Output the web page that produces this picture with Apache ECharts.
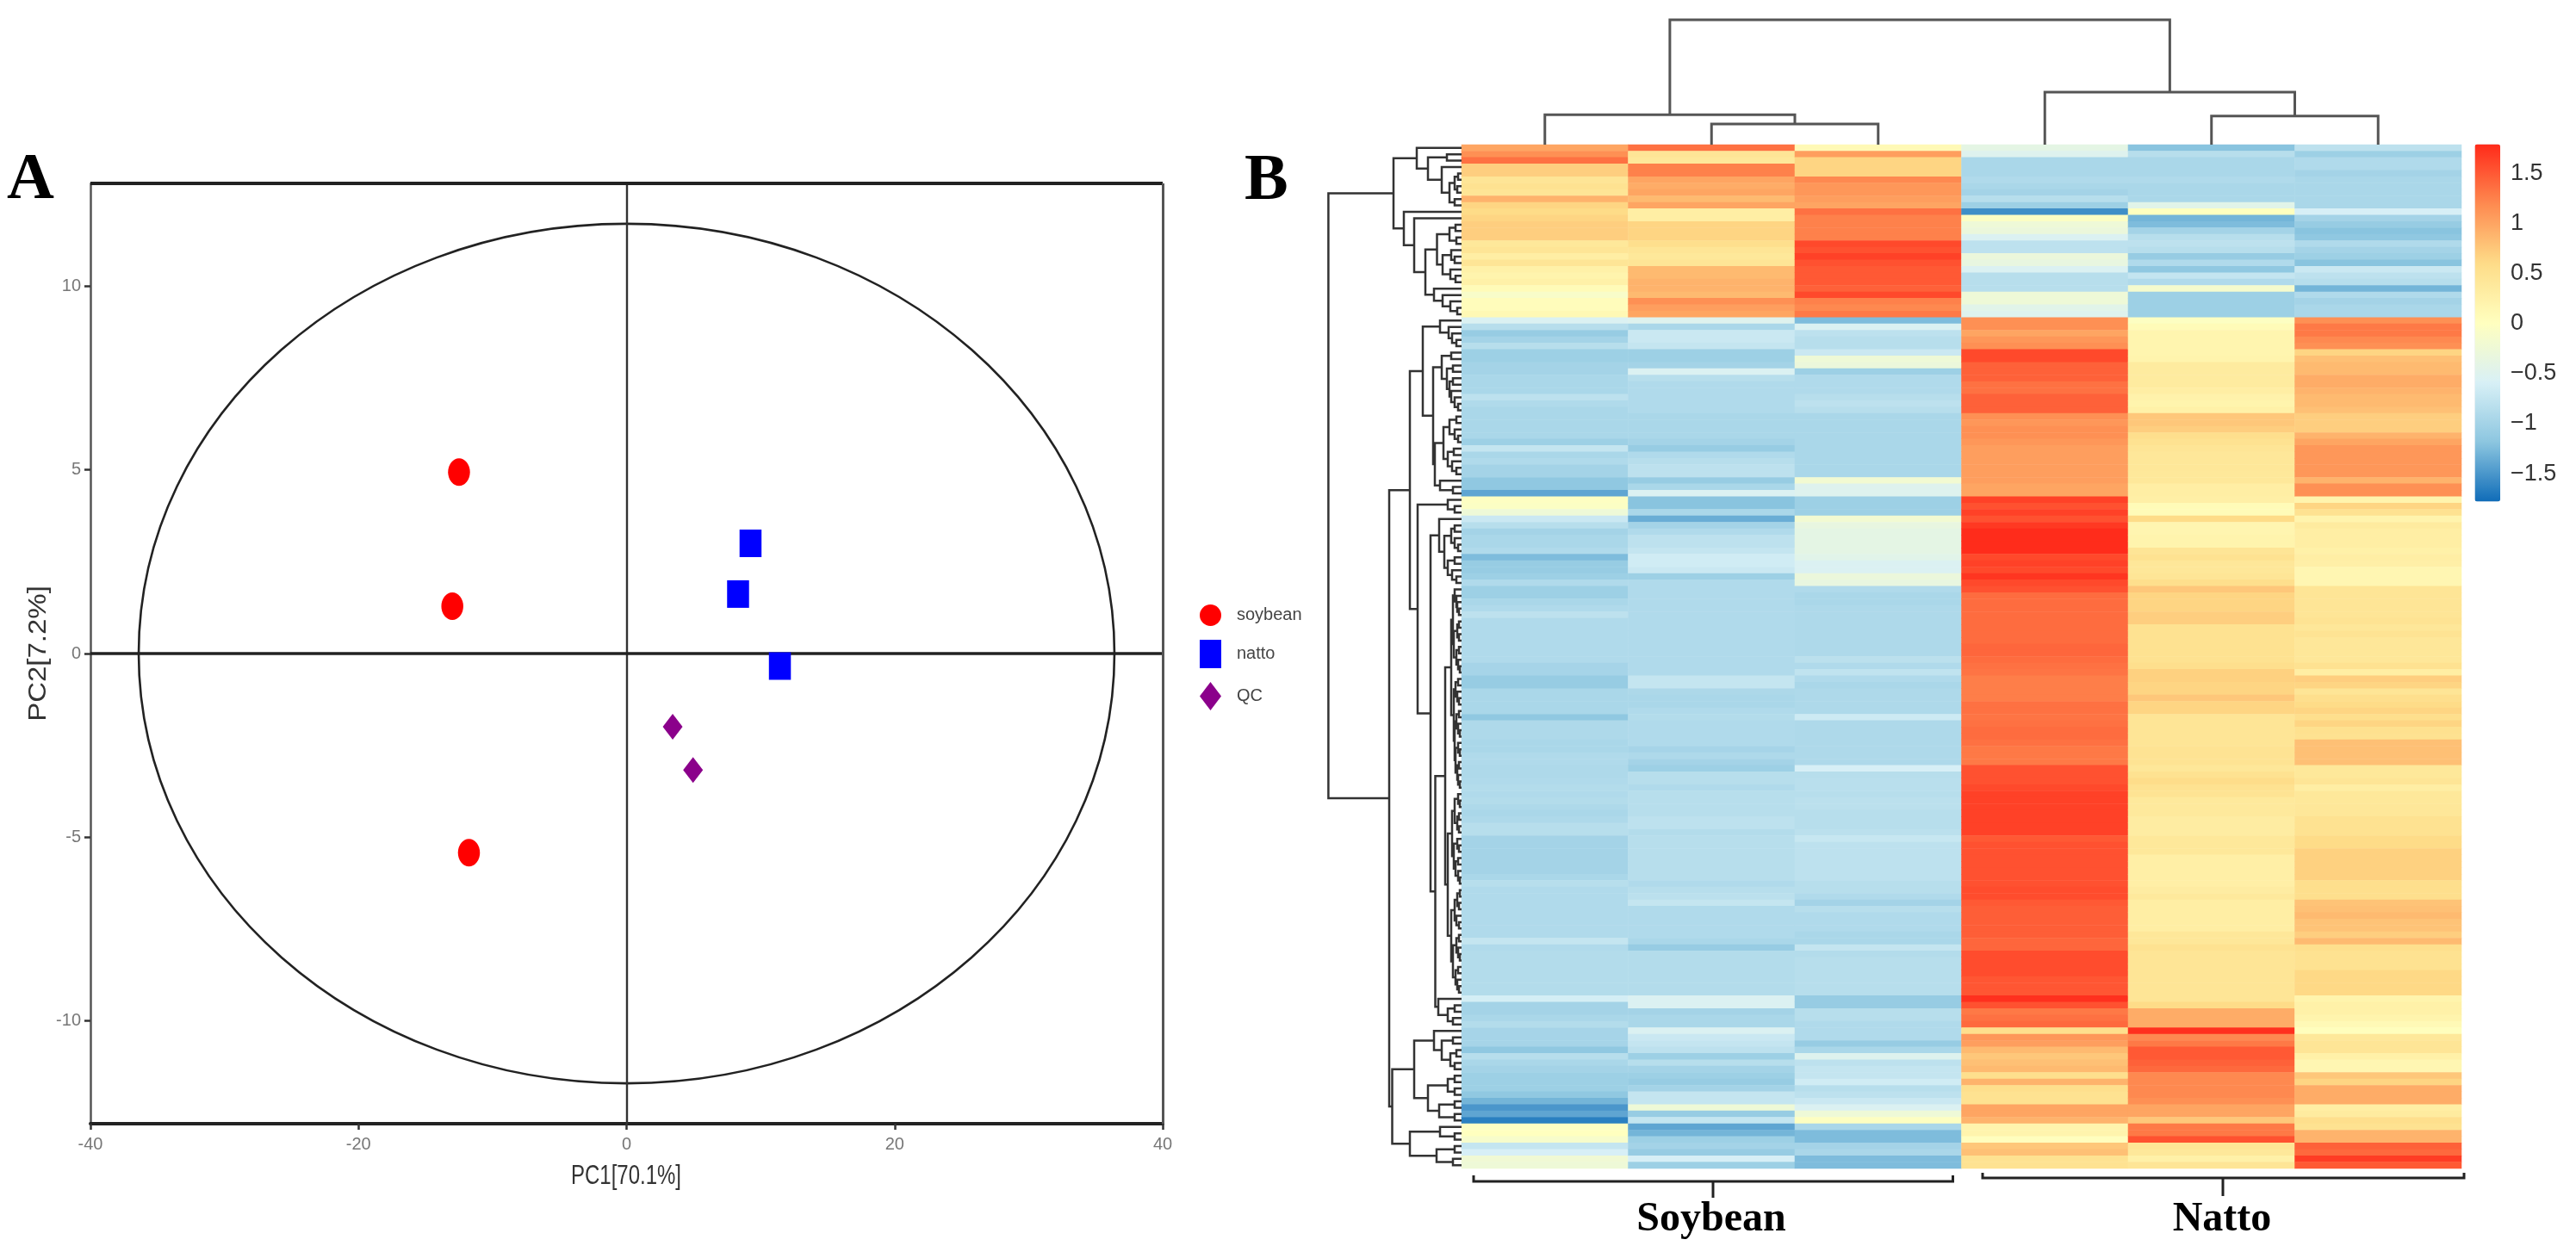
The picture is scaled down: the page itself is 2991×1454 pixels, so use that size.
<!DOCTYPE html>
<html><head><meta charset="utf-8"><title>PCA and heatmap</title>
<style>html,body{margin:0;padding:0;background:#fff}#c{width:2991px;height:1454px}</style>
<script src="https://cdn.jsdelivr.net/npm/echarts@6/dist/echarts.min.js"></script></head>
<body><div id="c"></div><script>
// ---------- Panel A data ----------
const soybean = [[-12.5,4.94],[-13.0,1.29],[-11.76,-5.42]];
const natto   = [[9.25,3.0],[8.32,1.62],[11.44,-0.34]];
const qc      = [[3.44,-1.99],[4.96,-3.17]];
const ellipseAxes = [36.4,11.7];
const pcaXTicks = [-40,-20,0,20,40];
const pcaYTicks = [-10,-5,0,5,10];
// ---------- Panel B data ----------
const sampleNames = ["S1","S2","S3","N1","N2","N3"];
const colS1 = [1.0,1.15,1.35,.7,.7,.45,.5,.45,.9,.65,.6,.65,.7,.7,.7,.4,.45,.3,.45,.25,.2,.25,.08,-.1,.05,.05,.12,
-.55,-.85,-1.1,-1.0,-.85,-1.05,-1.05,-1.0,-1.0,-.95,-.95,-.95,-.8,-.9,-.95,-.95,-.95,-.95,-.95,-1.05,-.75,-.95,-.9,
-1.0,-1.0,-1.15,-1.15,-1.4,-.03,-.05,-.25,-.7,-.85,-1.0,-.95,-.95,-.9,-1.25,-1.1,-1.1,-1.05,-.9,-1.05,
-1.05,-.95,-.9,-.8,-.9,-.9,-.9,-.9,-.9,-.9,-.9,-.98,-.98,-1.1,-1.1,-.95,-.95,-.95,-.95,-1.15,
-.92,-.92,-.92,-.95,-.95,-.9,-.9,-.92,-.92,-.9,-.88,-.9,-.88,-.92,-.95,-.92,-.85,-.85,-1.0,-1.0,
-1.0,-1.0,-1.0,-1.0,-.95,-.85,-.9,-.9,-.9,-.9,-.9,-.9,-.9,-.9,-.75,-.9,-.88,-.88,-.88,-.88,
-.88,-.88,-.88,-.62,-1.0,-1.0,-.95,-.88,-.98,-.98,-.98,-1.15,-.85,-.95,-1.0,-1.05,-1.05,-1.05,-1.15,-1.3,
-1.5,-1.4,-1.65,-.05,0,-.12,-.75,-.6,-.22,-.25];
const colS2 = [1.35,.45,.4,1.25,1.25,1.0,.95,1.0,.85,1.0,.3,.3,.65,.65,.65,.55,.45,.4,.45,.85,.85,.9,.9,.85,1.15,1.05,1.0,
-.5,-.95,-.7,-.7,-.75,-1.05,-1.05,-1.0,-.55,-.85,-.9,-.9,-.9,-.9,-.9,-.95,-.95,-.95,-.95,-1.0,-1.1,-.9,-.85,
-.8,-.8,-1.1,-.95,-.55,-1.2,-1.2,-.95,-1.35,-1.0,-.9,-.8,-.8,-.75,-.65,-.65,-.7,-1.05,-.9,-.9,
-.9,-.9,-.9,-.9,-.9,-.9,-.9,-.9,-.9,-.9,-.9,-.9,-.9,-.75,-.75,-.93,-.95,-.95,-.9,-.88,
-.9,-.9,-.9,-.9,-.98,-.92,-1.0,-1.05,-.85,-.85,-.9,-.85,-.85,-.85,-.85,-.8,-.8,-.88,-.85,-.85,
-.85,-.85,-.85,-.85,-.85,-.9,-.85,-.82,-.75,-.9,-.9,-.9,-.9,-.9,-.95,-1.1,-.88,-.88,-.88,-.88,
-.88,-.88,-.88,-.55,-.55,-1.0,-.95,-.95,-.55,-.7,-.75,-.8,-1.05,-.85,-1.0,-1.05,-1.1,-1.0,-.75,-.75,
-.25,-1.1,-.75,-1.4,-1.3,-1.05,-1.0,-1.1,-.6,-1.05];
const colS3 = [.1,1.05,.65,.65,.65,1.2,1.1,1.1,1.05,1.0,1.35,1.25,1.25,1.25,1.25,1.6,1.55,1.65,1.55,1.5,1.5,1.5,1.45,1.6,1.25,1.2,1.3,
-1.25,-.55,-.8,-.85,-.85,-.7,-.25,-.3,-1.05,-.9,-.9,-.9,-.85,-.8,-.85,-.95,-.95,-.95,-.95,-.95,-.95,-.95,-.95,
-.95,-.95,-.2,-.5,-.5,-1.05,-1.05,-1.05,-.2,-.35,-.4,-.4,-.4,-.4,-.45,-.55,-.55,-.3,-.35,-.9,
-.95,-.95,-.92,-.92,-.92,-.92,-.92,-.92,-.92,-.92,-.82,-.9,-.78,-.9,-.95,-.92,-.92,-.92,-.92,-.68,
-.92,-.92,-.92,-.92,-.92,-.92,-.92,-.6,-.85,-.83,-.83,-.85,-.82,-.82,-.85,-.85,-.85,-.82,-.72,-.8,
-.8,-.8,-.8,-.8,-.8,-.85,-.85,-.9,-1.0,-.85,-.9,-.9,-.9,-.95,-.95,-.75,-.88,-.85,-.85,-.85,
-.85,-.85,-.85,-1.1,-1.1,-.85,-.85,-.9,-.9,-.9,-1.1,-.95,-.5,-.8,-.75,-.75,-.65,-.85,-.8,-.7,
-.55,-.25,-.02,-.95,-1.25,-1.25,-1.0,-.95,-1.25,-1.25];
const colN1 = [-.4,-.5,-.95,-.95,-.95,-.9,-.95,-1.0,-.85,-1.05,-1.55,-.05,-.25,-.3,-.55,-.8,-.8,-.3,-.35,-.55,-.85,-.85,-.85,-.25,-.25,-.45,-.5,
1.15,1.15,1.0,1.1,1.15,1.6,1.6,1.45,1.45,1.45,1.35,1.35,1.45,1.45,1.45,1.15,1.1,1.15,1.15,1.1,1.05,1.05,1.05,
1.05,1.05,1.05,1.0,1.0,1.65,1.55,1.65,1.55,1.7,1.78,1.78,1.78,1.78,1.6,1.65,1.6,1.72,1.6,1.55,
1.38,1.38,1.38,1.38,1.38,1.38,1.38,1.38,1.42,1.42,1.38,1.35,1.33,1.27,1.27,1.27,1.27,1.35,1.35,1.33,
1.35,1.38,1.38,1.35,1.3,1.3,1.3,1.55,1.55,1.55,1.6,1.65,1.65,1.65,1.65,1.65,1.65,1.65,1.5,1.55,
1.55,1.55,1.55,1.55,1.55,1.55,1.58,1.58,1.5,1.47,1.47,1.47,1.47,1.47,1.42,1.42,1.58,1.58,1.58,1.58,
1.52,1.52,1.52,1.75,1.55,1.3,1.35,1.4,.55,1.1,1.05,.85,.75,.8,.85,.55,.9,.55,.5,.5,
1.0,1.0,.9,.2,.2,.02,.75,.8,.5,.5];
const colN2 = [-1.2,-.85,-.95,-.95,-.95,-.9,-.95,-.95,-.95,-.45,0,-1.3,-1.25,-1.0,-.85,-.8,-.85,-1.1,-.9,-1.15,-.75,-.9,-.15,-1.05,-1.05,-1.05,-1.05,
-.03,.08,.18,.18,.18,.18,.2,.35,.35,.35,.35,.3,.22,.2,.25,.75,.75,.7,.55,.5,.45,.42,.42,
.42,.4,.4,.3,.3,.28,.08,.08,.6,.17,.17,.2,.2,.45,.5,.42,.42,.45,.55,.75,
.65,.65,.65,.7,.7,.5,.5,.5,.5,.5,.5,.55,.68,.68,.65,.65,.75,.65,.65,.45,
.45,.45,.45,.45,.48,.48,.48,.42,.5,.58,.5,.48,.38,.38,.38,.32,.32,.32,.4,.4,
.4,.28,.28,.28,.28,.28,.32,.38,.3,.3,.3,.3,.3,.42,.42,.5,.45,.45,.45,.45,
.45,.45,.45,.45,.6,.95,.95,.95,1.75,1.2,1.3,1.5,1.5,1.45,1.4,1.2,1.2,1.2,1.2,1.15,
1.0,1.0,.75,1.3,1.3,1.55,.45,.4,.25,.45];
const colN3 = [-.8,-1.05,-.9,-.9,-1.0,-.95,-.95,-.95,-.95,-.95,-.6,-1.0,-1.1,-1.2,-1.15,-.9,-1.0,-1.05,-1.2,-.7,-.8,-.85,-1.3,-.9,-1.0,-.95,-.95,
1.15,1.3,1.3,1.2,1.15,.65,.8,.85,.85,.95,.95,.9,.85,.85,.8,.7,.7,.7,.9,1.0,1.1,1.1,1.1,
1.1,1.1,.9,1.15,1.15,.2,.65,.5,.2,.35,.3,.3,.3,.25,.3,.27,.15,.15,.15,.45,
.45,.45,.45,.45,.48,.42,.48,.42,.42,.42,.42,.5,.3,.7,.65,.45,.55,.6,.65,.55,
.65,.52,.5,.8,.8,.8,.8,.4,.4,.45,.3,.4,.4,.42,.42,.5,.5,.5,.6,.6,
.68,.68,.68,.68,.68,.55,.55,.55,.78,.8,.85,.78,.78,.7,.85,.55,.5,.5,.5,.62,
.62,.62,.62,.2,.25,.25,.2,.1,.03,.4,.45,.45,.25,.15,.15,.75,.65,.95,.95,.95,
.3,.35,.55,.5,.9,.9,1.45,1.4,1.68,1.5];
const colorbarTicks = [-1.5,-1,-0.5,0,0.5,1,1.5];
const colorRange = [-1.78,1.79];
const palette = ["#0f6cb8","#8cc6e0","#d8f0f6","#ffffbf","#fedc88","#fe8a50","#ff2a1a"];
// Dendrograms: [height, childA, childB]; a bare number is the leaf's column or row.
const columnTree = [100,[24,0,[16.6,1,2]],[42,3,[23,4,5]]];
const rowTreeUpper = [79,
  [52,0,[39,[17,1,2],[23,3,[14,[8,[4,4,5],[5,6,7]],[8,8,9]]]]],
  [67,10,[55,11,[42,
    [28.5,[14,[7,12,13],[6,14,15]],[22,[12,16,[8,17,18]],[13,19,[7,20,21]]]],
    [32,22,[22,23,[13,24,[5,25,26]]]]]]]];
const rowTreeP = [45,
  [25,27,[15,28,[11,29,[6,30,31]]]],
  [33,
    [23,[12,32,33],[17,[10,34,35],[14,[10,36,37],[12,38,[8,39,[4,40,41]]]]]],
    [31,[21,[14,[6,42,43],[8,44,[4,45,46]]],[16,[9,47,48],[11,49,[6,50,51]]]],[25,52,[10,53,54]]]]];
const rowTreeQ1 = [16,55,[8,56,57]];
const rowTreeQ2a = [26,58,[20,[12,[8,59,60],[8,61,[4,62,63]]],[16,[8,64,65],[11,66,[6,67,68]]]]];
const rowTreeM1 = [12,
  [10,[8,69,[6,70,[5,71,[3,72,73]]]],[9,[5,[3,74,75],[3,76,77]],[6,[3,78,79],[4,80,[2,81,82]]]]],
  [9,[7,[4,83,84],[5,85,[3,86,87]]],[8,[6,[3,88,89],[4,90,[2,91,92]]],[7,[4,93,[2,94,95]],[5,[3,96,97],[4,98,[2,99,100]]]]]]];
const rowTreeM2 = [16,
  [11,[8,[4,101,[2,102,103]],[5,[3,104,105],[3,106,107]]],[9,[5,108,[3,109,110]],[7,[4,111,112],[4,113,[2,114,115]]]]],
  [12,[8,[5,[2,116,117],[3,118,119]],[6,120,[3,121,122]]],[10,[6,[3,123,124],[4,125,[2,126,127]]],[7,[4,128,129],[5,130,[3,131,132]]]]]];
const rowTreeQ2b2 = [27,133,[16,[8,134,135],[10,136,137]]];
const rowTreeB1 = [55,
  [32,138,[23,[10,139,140],[13,[6,141,142],[8,143,144]]]],
  [39,[16,[8,145,146],[8,147,148]],[26,[8,149,150],[8,151,152]]]];
const rowTreeB2 = [60,[25,153,[8,154,155]],[29,[8,156,157],[10,158,159]]];
const rowTree = [154.6, rowTreeUpper,
  [84,
    [60,rowTreeP,[51,rowTreeQ1,[36,rowTreeQ2a,[30.5,[19,rowTreeM1,rowTreeM2],rowTreeQ2b2]]]],
    [80.5,rowTreeB1,rowTreeB2]]];

// ---------- helpers ----------
const columns = [colS1,colS2,colS3,colN1,colN2,colN3];
const rowNames = colS1.map((_,i)=>"m"+i);
const heatData = [];
columns.forEach((col,c)=>col.forEach((v,r)=>heatData.push([c,r,v])));
function flatten(node,out){
  if(typeof node==="number") return {pos:node+0.5,h:0};
  const a=flatten(node[1],out), b=flatten(node[2],out);
  out.push([a.pos,a.h,b.pos,b.h,node[0]]);
  return {pos:(a.pos+b.pos)/2,h:node[0]};
}
const colLinks=[],rowLinks=[];
flatten(columnTree,colLinks); flatten(rowTree,rowLinks);

const sans='"Liberation Sans",Arial,sans-serif';
const serif='"Liberation Serif","Times New Roman",serif';
const noAxis={show:false};
const line=(w,c)=>({width:w,color:c,type:'solid'});
const ch=echarts.init(document.getElementById('c'),null,{renderer:'canvas',width:2991,height:1454,devicePixelRatio:1});

const frameMarks={silent:true,symbol:'none',animation:false,label:{show:false},emphasis:{disabled:true},
  data:[
    {xAxis:0,lineStyle:line(2.4,'#333')},
    {yAxis:0,lineStyle:line(3.5,'#222')},
    {yAxis:12.8,lineStyle:line(4,'#222')},
    {xAxis:40,lineStyle:line(3,'#555')}
  ]};

const option={
  animation:false,backgroundColor:'#fff',
  legend:{left:1393,top:702,orient:'vertical',itemWidth:25,itemHeight:33,itemGap:16,padding:0,selectedMode:false,
    textStyle:{fontFamily:sans,fontSize:20,color:'#444',padding:[0,0,0,13]},
    data:[{name:'soybean',icon:'circle'},{name:'natto',icon:'rect'},{name:'QC',icon:'diamond'}]},
  grid:[
    {left:105,top:213,width:1245,height:1092},
    {left:1697,top:168,width:1161,height:1189},
    {left:1697,top:23,width:1161,height:145},
    {left:1540,top:168,width:157,height:1189},
    {left:2873.5,top:167.6,width:29.5,height:415}
  ],
  xAxis:[
    {gridIndex:0,type:'value',min:-40,max:40,interval:20,splitLine:noAxis,
      axisLine:{onZero:false,lineStyle:line(4,'#222')},
      axisTick:{length:7,lineStyle:line(2.5,'#333')},
      axisLabel:{fontFamily:sans,fontSize:20,color:'#777',margin:14,customValues:pcaXTicks}},
    {gridIndex:1,type:'category',data:sampleNames,show:false},
    {gridIndex:2,type:'value',min:0,max:6,show:false},
    {gridIndex:3,type:'value',min:0,max:157,inverse:true,show:false},
    {gridIndex:4,type:'value',min:0,max:1,show:false}
  ],
  yAxis:[
    {gridIndex:0,type:'value',min:-12.8,max:12.8,splitLine:noAxis,
      axisLine:{onZero:false,lineStyle:line(2.5,'#555')},
      axisTick:{length:7,lineStyle:line(2.5,'#333'),customValues:pcaYTicks},
      axisLabel:{fontFamily:sans,fontSize:20,color:'#777',margin:11,customValues:pcaYTicks}},
    {gridIndex:1,type:'category',data:rowNames,inverse:true,show:false},
    {gridIndex:2,type:'value',min:0,max:100,show:false},
    {gridIndex:3,type:'value',min:0,max:160,inverse:true,show:false},
    {gridIndex:4,type:'value',min:colorRange[0],max:colorRange[1],position:'right',splitLine:noAxis,
      axisLine:{show:false},axisTick:{show:false},
      axisLabel:{fontFamily:sans,fontSize:27,color:'#333',margin:12,
        customValues:colorbarTicks,formatter:v=>String(v).replace('-','\u2212')}}
  ],
  visualMap:{type:'continuous',seriesIndex:3,min:colorRange[0],max:colorRange[1],calculable:false,hoverLink:false,
    left:2873.5,top:167.6,itemWidth:29.5,itemHeight:415,padding:0,text:null,showLabel:false,
    inRange:{color:palette}},
  series:[
    {type:'scatter',name:'soybean',xAxisIndex:0,yAxisIndex:0,data:soybean,symbol:'circle',symbolSize:[25.5,32],
      itemStyle:{color:'#ff0000',opacity:1},emphasis:{disabled:true},z:5,markLine:frameMarks},
    {type:'scatter',name:'natto',xAxisIndex:0,yAxisIndex:0,data:natto,symbol:'rect',symbolSize:[25.5,32],
      itemStyle:{color:'#0000ff',opacity:1},emphasis:{disabled:true},z:5},
    {type:'scatter',name:'QC',xAxisIndex:0,yAxisIndex:0,data:qc,symbol:'diamond',symbolSize:[23,30],
      itemStyle:{color:'#8b008b',opacity:1},emphasis:{disabled:true},z:5},
    {type:'heatmap',xAxisIndex:1,yAxisIndex:1,data:heatData,progressive:0,animation:false,emphasis:{disabled:true},itemStyle:{borderWidth:0}},
    {type:'custom',xAxisIndex:2,yAxisIndex:2,data:colLinks,silent:true,clip:false,
      renderItem:(p,api)=>{
        const a=api.coord([api.value(0),api.value(1)]),b=api.coord([api.value(0),api.value(4)]),
              c=api.coord([api.value(2),api.value(4)]),d=api.coord([api.value(2),api.value(3)]);
        return {type:'polyline',shape:{points:[a,b,c,d]},style:{fill:null,stroke:'#555',lineWidth:3}};
      }},
    {type:'custom',xAxisIndex:3,yAxisIndex:3,data:rowLinks,silent:true,clip:false,
      renderItem:(p,api)=>{
        const a=api.coord([api.value(1),api.value(0)]),b=api.coord([api.value(4),api.value(0)]),
              c=api.coord([api.value(4),api.value(2)]),d=api.coord([api.value(3),api.value(2)]);
        return {type:'polyline',shape:{points:[a,b,c,d]},style:{fill:null,stroke:'#333',lineWidth:2.5}};
      }},
    {type:'custom',xAxisIndex:0,yAxisIndex:0,data:[[0,0]],silent:true,clip:false,z:3,
      renderItem:(p,api)=>{
        const o=api.coord([0,0]),e=api.coord(ellipseAxes);
        return {type:'ellipse',shape:{cx:o[0],cy:o[1],rx:Math.abs(e[0]-o[0]),ry:Math.abs(e[1]-o[1])},
          style:{fill:null,stroke:'#222',lineWidth:2.6}};
      }}
  ],
  graphic:[
    {type:'text',left:8,top:172,style:{text:'A',font:'bold 76px '+serif,fill:'#000'}},
    {type:'text',left:1445,top:173,style:{text:'B',font:'bold 76px '+serif,fill:'#000'}},
    {type:'text',x:727,y:1366,scaleX:0.75,style:{text:'PC1[70.1%]',font:'32px '+sans,fill:'#333',align:'center',verticalAlign:'middle'}},
    {type:'text',x:45,y:759,rotation:Math.PI/2,scaleY:0.9,style:{text:'PC2[7.2%]',font:'33px '+sans,fill:'#333',align:'center',verticalAlign:'middle'}},
    {type:'text',x:1987,y:1441,style:{text:'Soybean',font:'bold 48px '+serif,fill:'#000',align:'center',verticalAlign:'bottom'}},
    {type:'text',x:2580,y:1441,style:{text:'Natto',font:'bold 48px '+serif,fill:'#000',align:'center',verticalAlign:'bottom'}},
    {type:'polyline',shape:{points:[[1711,1365],[1711,1372],[2267.5,1372],[2267.5,1365]]},style:{fill:null,stroke:'#222',lineWidth:3}},
    {type:'line',shape:{x1:1989,y1:1372,x2:1989,y2:1391},style:{stroke:'#222',lineWidth:3}},
    {type:'polyline',shape:{points:[[2302,1362],[2302,1368],[2861,1368],[2861,1362]]},style:{fill:null,stroke:'#222',lineWidth:3}},
    {type:'line',shape:{x1:2581,y1:1368,x2:2581,y2:1389},style:{stroke:'#222',lineWidth:3}}
  ]
};
ch.setOption(option);
</script></body></html>
